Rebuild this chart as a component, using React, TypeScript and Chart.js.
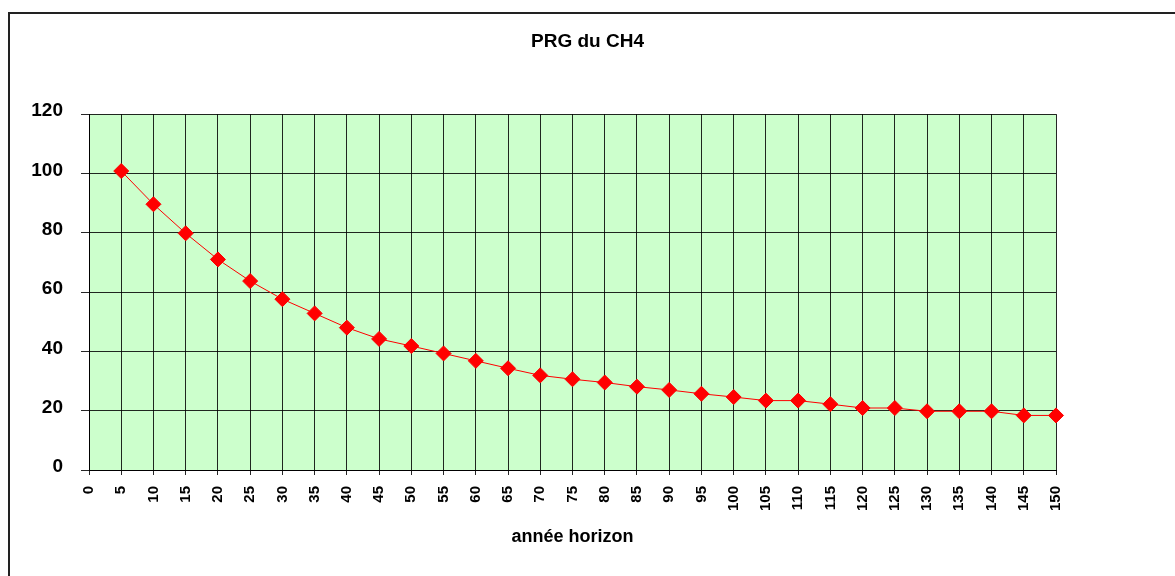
import React, { useEffect, useRef } from "react";
import { Chart, registerables } from "chart.js";

Chart.register(...registerables);

const years: number[] = [5, 10, 15, 20, 25, 30, 35, 40, 45, 50, 55, 60, 65, 70, 75, 80, 85, 90, 95, 100, 105, 110, 115, 120, 125, 130, 135, 140, 145, 150];
const prgValues: number[] = [100.8, 89.6, 79.8, 71.0, 63.7, 57.6, 52.8, 48.0, 44.2, 41.8, 39.3, 36.8, 34.3, 31.9, 30.6, 29.5, 28.1, 27.0, 25.7, 24.6, 23.4, 23.4, 22.2, 20.9, 20.9, 19.8, 19.8, 19.8, 18.4, 18.4];

const chartTitle = "PRG du CH4";
const xAxisTitle = "année horizon";
const xMin = 0;
const xMax = 150;
const xStep = 5;
const yMin = 0;
const yMax = 120;
const yStep = 20;

const FONT = 'Arial, "Liberation Sans", sans-serif';

const plotBackground = {
  id: "plotBackground",
  beforeDraw(chart: any) {
    const { ctx, chartArea } = chart;
    if (!chartArea) return;
    ctx.save();
    ctx.fillStyle = "#CCFFCC";
    ctx.fillRect(chartArea.left, chartArea.top, chartArea.right - chartArea.left, chartArea.bottom - chartArea.top);
    ctx.restore();
  },
};

export default function App() {
  const canvasRef = useRef<HTMLCanvasElement | null>(null);

  useEffect(() => {
    if (!canvasRef.current) return;
    const points = years.map((x, i) => ({ x, y: prgValues[i] }));
    const chart = new Chart(canvasRef.current, {
      type: "line",
      data: {
        datasets: [
          {
            label: "PRG",
            data: points,
            borderColor: "#FF0000",
            borderWidth: 1,
            backgroundColor: "#FF0000",
            pointStyle: "rectRot",
            pointRadius: 7.5,
            pointBorderWidth: 1,
            pointBorderColor: "#FF0000",
            pointBackgroundColor: "#FF0000",
            tension: 0,
            fill: false,
            clip: false,
          },
        ],
      },
      options: {
        animation: false,
        responsive: false,
        events: [],
        layout: { padding: 0 },
        plugins: {
          legend: { display: false },
          tooltip: { enabled: false },
          title: {
            display: true,
            text: chartTitle,
            color: "#000",
            font: { family: FONT, size: 19, weight: "bold", lineHeight: 1.2 },
            padding: { top: 30.3, bottom: 61 },
          },
        },
        scales: {
          x: {
            type: "linear",
            min: xMin,
            max: xMax,
            afterFit: (scale: any) => {
              scale.height = 106;
            },
            ticks: {
              stepSize: xStep,
              autoSkip: false,
              maxRotation: 90,
              minRotation: 90,
              padding: 11,
              color: "#000",
              font: { family: FONT, size: 15, weight: "bold" },
            },
            grid: {
              color: "rgba(0,0,0,0.85)",
              lineWidth: 1,
              tickLength: 5,
              drawTicks: true,
            },
            border: { display: true, color: "#000", width: 1 },
            title: {
              display: true,
              text: xAxisTitle,
              color: "#000",
              font: { family: FONT, size: 18, weight: "bold", lineHeight: 1.2 },
              padding: { top: 0, bottom: 28.5 },
            },
          },
          y: {
            type: "linear",
            position: "left",
            min: yMin,
            max: yMax,
            afterFit: (scale: any) => {
              scale.width = 89;
            },
            ticks: {
              stepSize: yStep,
              padding: 18,
              labelOffset: -3,
              color: "#000",
              font: { family: FONT, size: 19, weight: "bold" },
            },
            grid: {
              color: "rgba(0,0,0,0.85)",
              lineWidth: 1,
              tickLength: 8,
            },
            border: { display: true, color: "#000", width: 1 },
          },
          yRight: {
            type: "linear",
            position: "right",
            display: true,
            afterFit: (scale: any) => {
              scale.width = 119;
            },
            ticks: { display: false },
            grid: { display: false, drawTicks: false },
            border: { display: false },
          },
        },
      },
      plugins: [plotBackground],
    });
    return () => {
      chart.destroy();
    };
  }, []);

  return (
    <div>
      <div
        style={{
          position: "fixed",
          left: 8,
          top: 12,
          width: 1165,
          height: 562,
          borderLeft: "2px solid #222",
          borderTop: "2px solid #222",
          pointerEvents: "none",
        }}
      />
      <canvas
        ref={canvasRef}
        width={1175}
        height={576}
        style={{ position: "fixed", left: 0, top: 0, width: 1175, height: 576 }}
      />
    </div>
  );
}
